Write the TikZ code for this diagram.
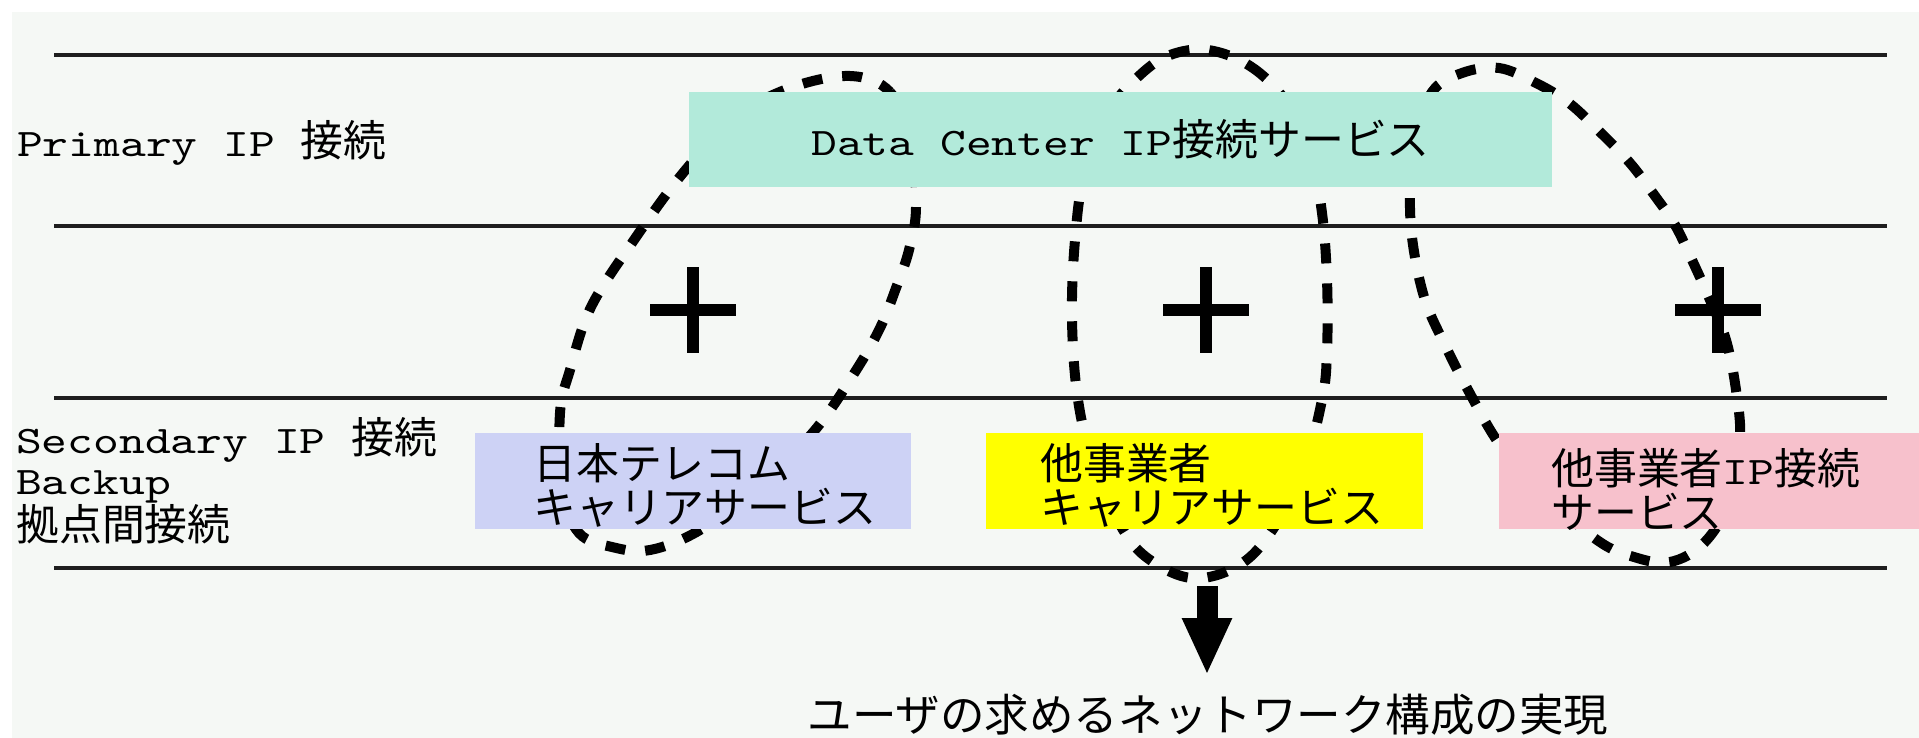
\documentclass[tikz,border=0pt]{standalone}
\usepackage{fontspec}
\setmainfont{lmmono10-regular.otf}[FakeStretch=1.26]
\newfontfamily\jp{Noto Sans CJK JP}[Scale=1.1]
\usetikzlibrary{arrows.meta}
\definecolor{bgc}{RGB}{245,248,245}
\definecolor{mint}{RGB}{178,234,218}
\definecolor{lav}{RGB}{205,210,245}
\definecolor{yel}{RGB}{255,255,0}
\definecolor{pinkc}{RGB}{247,193,204}
\definecolor{linec}{RGB}{30,30,30}
\tikzset{
  plussign/.pic={\draw[line width=11.5pt] (0,-43) -- (0,43) (-43,0) -- (43,0);}
}
\begin{document}
\begin{tikzpicture}[x=1pt,y=-1pt,
  hline/.style={draw=linec, line width=3.5pt},
  dashloop/.style={draw=black, line width=10pt, dash pattern=on 20pt off 20pt},
  box/.style={rectangle, inner sep=0pt, outer sep=0pt, anchor=north west, draw=none},
  lbl/.style={inner sep=0pt, font=\fontsize{39}{44}\selectfont, align=left, text=black},
  bigarrow/.style={line width=21pt, -{Triangle[length=57pt,width=46pt]}}
]
\useasboundingbox (0,0) rectangle (1919,738);
\fill[white] (0,0) rectangle (1919,738);
\fill[bgc] (12,12) rectangle (1919,738);

% horizontal rules
\draw[hline] (54,55) -- (1887,55);
\draw[hline] (54,226) -- (1887,226);
\draw[hline] (54,398) -- (1887,398);
\draw[hline] (54,568) -- (1887,568);

% dashed loops
\draw[dashloop] plot[smooth cycle, tension=0.6] coordinates {
  (850,76) (890,92) (910,140) (916,207) (909,250) (896,288) (880,328)
  (855,372) (815,430) (760,485) (700,530) (650,550) (612,547) (579,533)
  (562,490) (560,413) (570,370) (591,307) (634,240) (683,173) (735,118) (790,88)};
\draw[dashloop] plot[smooth cycle, tension=0.6] coordinates {
  (1208,50) (1250,66) (1285,100) (1310,150) (1322,213) (1327,280) (1327,350)
  (1322,400) (1300,480) (1263,543) (1230,570) (1191,578) (1153,562) (1125,533)
  (1095,470) (1078,400) (1072,320) (1075,240) (1085,170) (1110,110) (1140,75) (1170,55)};
\draw[dashloop] plot[smooth cycle, tension=0.6] coordinates {
  (1499,68) (1536,83) (1569,103) (1600,132) (1630,163) (1655,196) (1675,225)
  (1692,260) (1710,300) (1726,340) (1736,390) (1740,440) (1730,500) (1704,543)
  (1670,562) (1634,557) (1597,540) (1540,490) (1500,445) (1468,390) (1445,345)
  (1425,300) (1413,245) (1410,195) (1415,140) (1432,92) (1462,73)};

% boxes
\node[box, fill=mint, minimum width=863pt, minimum height=95pt] (dc) at (689,92) {};
\node[box, fill=lav, minimum width=436pt, minimum height=96pt] (ntc) at (475,433) {};
\node[box, fill=yel, minimum width=437pt, minimum height=96pt] (oth) at (986,433) {};
\node[box, fill=pinkc, minimum width=420pt, minimum height=96pt] (oip) at (1499,433) {};

% texts
\node[lbl] (dct) at (dc.center) {Data Center IP{\jp 接続サービス}};
\node[lbl, anchor=west] (ntct) at (533,485) {{\jp 日本テレコム}\\{\jp キャリアサービス}};
\node[lbl, anchor=west] (otht) at (1040,485) {{\jp 他事業者}\\{\jp キャリアサービス}};
\node[lbl, anchor=west] (oipt) at (1551,489) {{\jp 他事業者}IP{\jp 接続}\\{\jp サービス}};

\node[lbl, anchor=west] (prim) at (17,143) {Primary IP {\jp 接続}};
\node[lbl, anchor=west, font=\fontsize{39}{41}\selectfont] (sec) at (16,481)
  {Secondary IP {\jp 接続}\\Backup\\{\jp 拠点間接続}};

% plus signs
\pic at (693,310) {plussign};
\pic at (1206,310) {plussign};
\pic at (1718,310) {plussign};

% result arrow
\coordinate (arrs) at (1207,586);
\coordinate (arrt) at (1207,675);
\draw[bigarrow] (arrs) -- (arrt);
\node[lbl, font=\jp\fontsize{40.5}{44}\selectfont] (result) at (1208,715)
  {ユーザの求めるネットワーク構成の実現};
\end{tikzpicture}
\end{document}
